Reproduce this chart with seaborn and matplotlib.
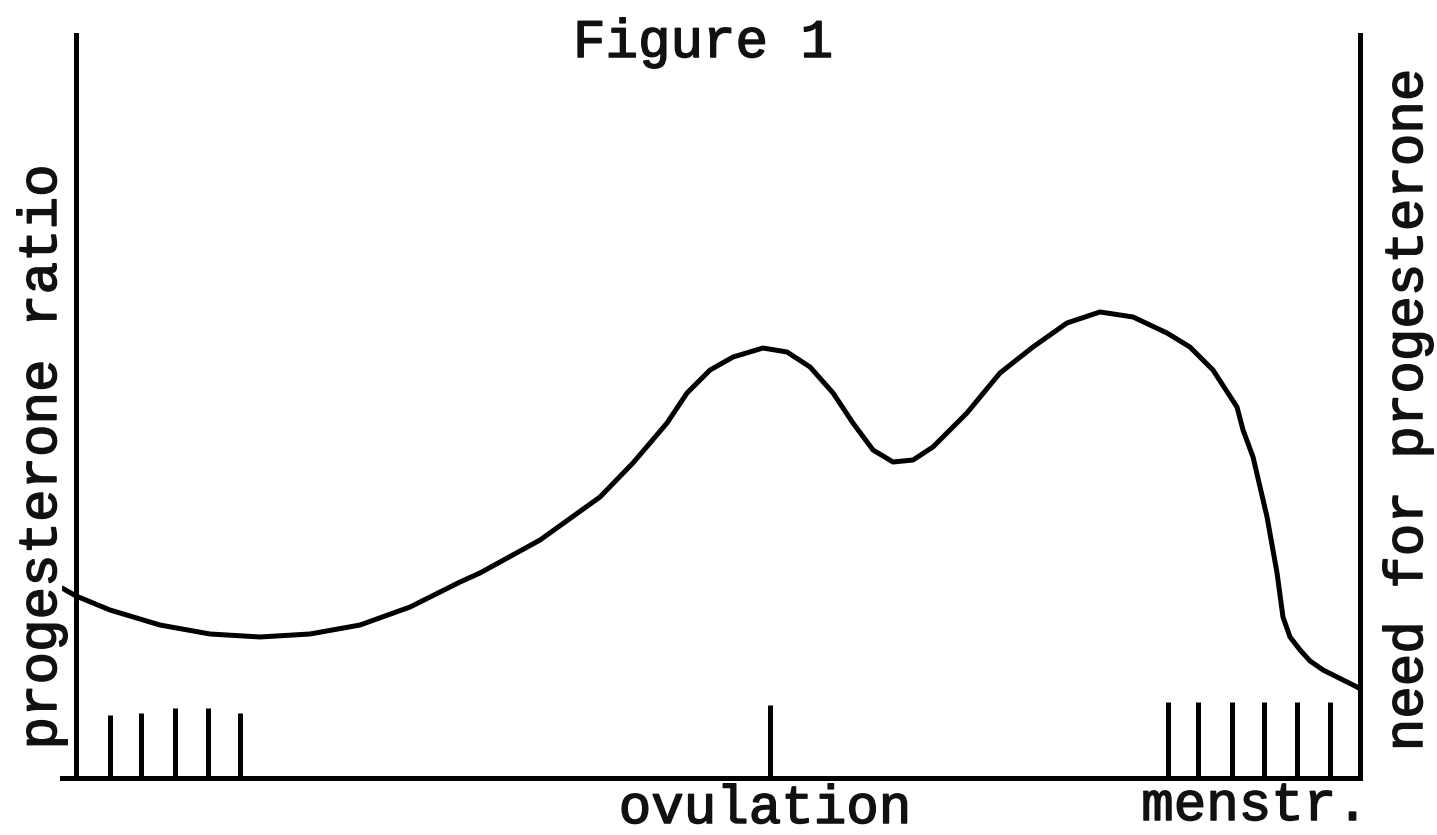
import matplotlib
matplotlib.use("Agg")
import matplotlib.pyplot as plt
import matplotlib.patheffects as pe
import seaborn as sns

# curve (x: 0..100 across the cycle, y: 0..100 of axis height)
cycle_x = [-1.09, 0.0, 2.65, 6.54, 10.44, 14.33, 18.22, 22.12, 26.01, 29.91,
           31.46, 36.14, 40.81, 43.38, 46.03, 47.59, 49.38, 51.17, 53.5, 55.37,
           57.17, 58.96, 60.51, 62.07, 63.63, 65.19, 66.74, 69.39, 71.96, 74.53,
           77.18, 79.75, 82.32, 84.97, 86.76, 88.55, 90.42, 90.89, 91.67, 92.76,
           93.15, 93.54, 94.0, 94.55, 95.33, 96.11, 97.12, 99.77, 100.0]
progesterone_ratio = [25.57, 24.5, 22.61, 20.59, 19.38, 18.98, 19.38, 20.59, 23.01, 26.38,
                      27.59, 32.03, 37.82, 42.4, 47.78, 51.82, 54.91, 56.66, 57.87, 57.34,
                      55.32, 51.82, 47.78, 44.15, 42.53, 42.8, 44.55, 49.13, 54.51, 58.01,
                      61.24, 62.72, 62.05, 59.89, 58.0, 54.91, 49.93, 46.84, 43.2, 35.13,
                      31.36, 27.59, 21.67, 18.98, 17.23, 15.75, 14.54, 12.25, 11.98]

# day marks along the base line
early_days = [2.65, 5.06, 7.71, 10.28, 12.77]
early_heights = [8.5, 8.7, 9.4, 9.4, 8.7]
ovulation_day = [54.05]
ovulation_height = [9.8]
menstr_days = [85.05, 87.38, 90.03, 92.52, 95.09, 97.66]
menstr_heights = [10.2, 10.2, 10.2, 10.2, 10.2, 10.2]

title = "Figure 1"
left_label = "progesterone ratio"
right_label = "need for progesterone"
ovulation_label = "ovulation"
menstr_label = "menstr."

sns.set_style("white")
plt.rcParams["font.family"] = ["Liberation Mono", "DejaVu Sans Mono"]

W, H = 1437, 835
fig = plt.figure(figsize=(W / 100, H / 100), dpi=100)
ax = fig.add_axes([62 / W, 57 / H, (1360 - 62) / W, (778 - 35) / H])

lw = 3.6
sns.lineplot(x=cycle_x, y=progesterone_ratio, color="black", linewidth=lw,
             sort=False, solid_joinstyle="round", solid_capstyle="round", ax=ax)
ax.vlines(early_days, 0, early_heights, color="black", linewidth=lw)
ax.vlines(ovulation_day, 0, ovulation_height, color="black", linewidth=lw)
ax.vlines(menstr_days, 0, menstr_heights, color="black", linewidth=lw)

ax.set_xlim(-1.09, 100)
ax.set_ylim(0, 100)
ax.set_xticks([])
ax.set_yticks([])
ax.spines["top"].set_visible(False)
for s in ["left", "right", "bottom"]:
    ax.spines[s].set_visible(True)
    ax.spines[s].set_color("black")
    ax.spines[s].set_linewidth(lw)
ax.spines["left"].set_position(("data", 0))

def px(x, y):
    return x / W, 1 - y / H

# typewriter look: regular weight, slightly thickened strokes
ink = [pe.withStroke(linewidth=1.1, foreground="#111111")]
txt = dict(fontsize=39, color="#111111", path_effects=ink)
fig.text(*px(703, 57), title, ha="center", va="baseline", **txt)
fig.text(*px(765, 823), ovulation_label, ha="center", va="baseline", **txt)
fig.text(*px(1255, 820), menstr_label, ha="center", va="baseline", **txt)
fig.text(*px(42, 457), left_label, rotation=90, ha="center", va="center", **txt)
fig.text(*px(1408, 410), right_label, rotation=90, ha="center", va="center", **txt)

fig.savefig("out.png", dpi=100)
